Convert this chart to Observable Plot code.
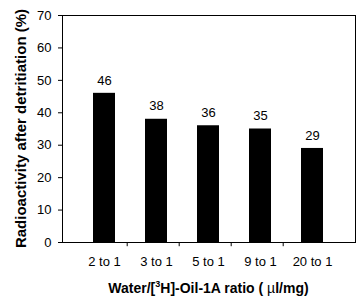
<!DOCTYPE html>
<html><head><meta charset="utf-8">
<script src="https://cdn.jsdelivr.net/npm/d3@7"></script>
<script src="https://cdn.jsdelivr.net/npm/@observablehq/plot@0.6"></script>
<style>body{margin:0;background:#fff;} svg{font-family:Arial,"Liberation Sans",sans-serif;}</style>
</head><body><div id="chart"></div>
<script>
const categories = ["2 to 1", "3 to 1", "5 to 1", "9 to 1", "20 to 1"];
const values = [46, 38, 36, 35, 29];
const yTicks = [0, 10, 20, 30, 40, 50, 60, 70];
const yTitle = "Radioactivity after detritiation (%)";

const data = categories.map((c, i) => ({cat: c, val: values[i]}));
const W = 363, H = 306, mL = 62, mR = 8, mT = 15, mB = 64;
const step = (W - mL - mR) / categories.length;

const plot = Plot.plot({
  width: W, height: H,
  marginLeft: mL, marginRight: mR, marginTop: mT, marginBottom: mB,
  style: {fontFamily: "Arial, 'Liberation Sans', sans-serif", fontSize: "13px", color: "#000", background: "#fff"},
  x: {domain: categories, padding: 0.57, label: null},
  y: {domain: [0, 70], label: null},
  marks: [
    Plot.barY(data, {x: "cat", y: "val", fill: "#000"}),
    Plot.text(data, {x: "cat", y: "val", text: d => String(d.val), dy: -13, fontSize: 13, fill: "#000"}),
    Plot.axisY({ticks: yTicks, tickSize: 4, tickPadding: 7, fontSize: 13, label: null}),
    Plot.axisX({tickSize: 0, tickPadding: 14, fontSize: 13, label: null}),
    Plot.ruleX(categories.slice(1), {x: d => d, y1: 0, y2: -1.3, dx: -step / 2, stroke: "#000"}),
    Plot.frame({stroke: "#000"})
  ]
});
document.getElementById("chart").appendChild(plot);

const svg = d3.select(plot);
svg.append("text")
  .attr("transform", `translate(22,${(mT + H - mB) / 2}) rotate(-90)`)
  .attr("text-anchor", "middle").attr("dominant-baseline", "middle")
  .attr("font-weight", "bold").attr("font-size", 15).attr("fill", "#000")
  .text(yTitle);
const xt = svg.append("text")
  .attr("x", mL + (W - mL - mR) / 2).attr("y", 293)
  .attr("text-anchor", "middle")
  .attr("font-weight", "bold").attr("font-size", 14).attr("fill", "#000");
xt.append("tspan").text("Water/[");
xt.append("tspan").attr("font-size", 9).attr("dy", -6).text("3");
xt.append("tspan").attr("dy", 6).text("H]-Oil-1A ratio ( ");
xt.append("tspan").attr("font-weight", "normal").text("\u00b5");
xt.append("tspan").text("l/mg)");
</script></body></html>
